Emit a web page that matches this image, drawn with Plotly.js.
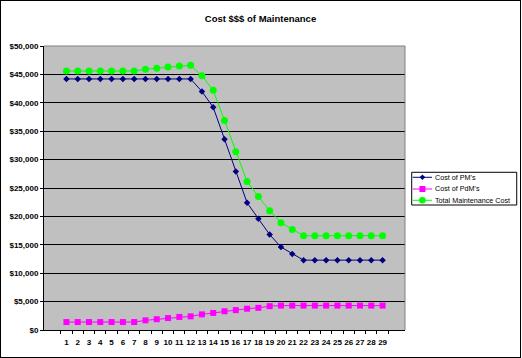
<!DOCTYPE html>
<html>
<head>
<meta charset="utf-8">
<script src="https://cdn.plot.ly/plotly-3.0.1.min.js"></script>
<style>
html,body{margin:0;padding:0;background:#fff;}
#wrap{width:521px;height:358px;box-sizing:border-box;border:1px solid #000;}
#chart{width:519px;height:356px;}
</style>
</head>
<body>
<div id="wrap"><div id="chart"></div></div>
<script>
const periods = [1,2,3,4,5,6,7,8,9,10,11,12,13,14,15,16,17,18,19,20,21,22,23,24,25,26,27,28,29];
const costPM = [44200,44200,44200,44200,44200,44200,44200,44200,44200,44200,44200,44200,42000,39200,33600,27900,22400,19600,16800,14600,13400,12300,12300,12300,12300,12300,12300,12300,12300];
const costPdM = [1400,1400,1400,1400,1400,1400,1400,1700,1900,2100,2300,2400,2750,3000,3300,3500,3750,3900,4200,4300,4300,4300,4300,4300,4300,4300,4300,4300,4300];
const totalCost = [45600,45600,45600,45600,45600,45600,45600,45900,46100,46300,46500,46600,44750,42200,36900,31400,26150,23500,21000,18900,17700,16600,16600,16600,16600,16600,16600,16600,16600];
const seriesNames = ["Cost of PM's", "Cost of PdM's", "Total Maintenance Cost"];
const seriesColors = ['#000080', '#FF00FF', '#00FF00'];
const yTicks = [0,5000,10000,15000,20000,25000,30000,35000,40000,45000,50000];

const xs = periods.map(String);
const font = "Liberation Sans, Arial, sans-serif";

const traces = [
  {x: xs, y: costPM, name: seriesNames[0], type: 'scatter', mode: 'lines+markers',
   line: {color: seriesColors[0], width: 1}, marker: {symbol: 'diamond', size: 5, color: seriesColors[0]}},
  {x: xs, y: costPdM, name: seriesNames[1], type: 'scatter', mode: 'lines+markers',
   line: {color: seriesColors[1], width: 1}, marker: {symbol: 'square', size: 6, color: seriesColors[1]}},
  {x: xs, y: totalCost, name: seriesNames[2], type: 'scatter', mode: 'lines+markers',
   line: {color: seriesColors[2], width: 1}, marker: {symbol: 'circle', size: 7, color: seriesColors[2]}}
];

// plot area in pixels (for the custom legend)
const PW = 361, PH = 284;
const px = v => v / PW, py = v => v / PH;

const shapes = [
  {type: 'line', xref: 'paper', yref: 'paper', x0: 0, x1: 1, y0: 1, y1: 1, line: {color: '#808080', width: 1}},
  {type: 'line', xref: 'paper', yref: 'paper', x0: 1, x1: 1, y0: 0, y1: 1, line: {color: '#808080', width: 1}},
  // legend box
  {type: 'rect', xref: 'paper', yref: 'paper', x0: 1.0186, x1: 1.3095, y0: 0.4401, y1: 0.5553,
   line: {color: '#000', width: 1}, fillcolor: '#fff', layer: 'above'}
];
const annotations = [];
const rowY = [0.5377, 0.4965, 0.4567];
const lx0 = 1.0213, lx1 = 1.0748, lxc = 1.0483;
rowY.forEach((y, i) => {
  const c = seriesColors[i];
  shapes.push({type: 'line', xref: 'paper', yref: 'paper', x0: lx0, x1: lx1, y0: y, y1: y,
               line: {color: c, width: 1}, layer: 'above'});
  if (i === 0) {
    const dx = px(2.8), dy = py(2.8);
    shapes.push({type: 'path', xref: 'paper', yref: 'paper', layer: 'above',
      path: `M ${lxc - dx} ${y} L ${lxc} ${y + dy} L ${lxc + dx} ${y} L ${lxc} ${y - dy} Z`,
      fillcolor: c, line: {color: c, width: 0}});
  } else if (i === 1) {
    const dx = px(3), dy = py(3);
    shapes.push({type: 'rect', xref: 'paper', yref: 'paper', layer: 'above',
      x0: lxc - dx, x1: lxc + dx, y0: y - dy, y1: y + dy, fillcolor: c, line: {color: c, width: 0}});
  } else {
    const dx = px(3.3), dy = py(3.3);
    shapes.push({type: 'circle', xref: 'paper', yref: 'paper', layer: 'above',
      x0: lxc - dx, x1: lxc + dx, y0: y - dy, y1: y + dy, fillcolor: c, line: {color: c, width: 0}});
  }
  annotations.push({xref: 'paper', yref: 'paper', x: 1.0776, y: y, xanchor: 'left', yanchor: 'middle',
    text: seriesNames[i], showarrow: false, font: {family: font, size: 7.2, color: '#000'}});
});

const layout = {
  width: 519, height: 356,
  margin: {l: 43, r: 115, t: 45, b: 27, pad: 0},
  paper_bgcolor: '#ffffff',
  plot_bgcolor: '#C0C0C0',
  font: {family: font, size: 8, color: '#000'},
  title: {text: '<b>Cost $$$ of Maintenance</b>', font: {family: font, size: 9.5, color: '#000'},
          x: 0.5, xref: 'container', y: 0.95, yref: 'container', yanchor: 'middle'},
  xaxis: {type: 'category', tickvals: xs, ticktext: xs, tickson: 'boundaries', tickangle: 0,
          ticks: 'outside', ticklen: 3, tickcolor: '#000', tickwidth: 1, ticklabelstandoff: 4,
          showline: true, linecolor: '#000', linewidth: 1, mirror: false,
          showgrid: false, zeroline: false, fixedrange: true,
          tickfont: {family: font, size: 8, color: '#000', weight: 'bold'}},
  yaxis: {range: [0, 50000], tickvals: yTicks, tickformat: '$,.0f',
          ticks: 'outside', ticklen: 3, tickcolor: '#000', tickwidth: 1,
          showline: true, linecolor: '#000', linewidth: 1,
          showgrid: true, gridcolor: '#000', gridwidth: 1, zeroline: false,
          tickfont: {family: font, size: 8, color: '#000', weight: 'bold'}},
  shapes: shapes,
  annotations: annotations,
  showlegend: false
};

Plotly.newPlot('chart', traces, layout, {displayModeBar: false, staticPlot: true});
</script>
</body>
</html>
